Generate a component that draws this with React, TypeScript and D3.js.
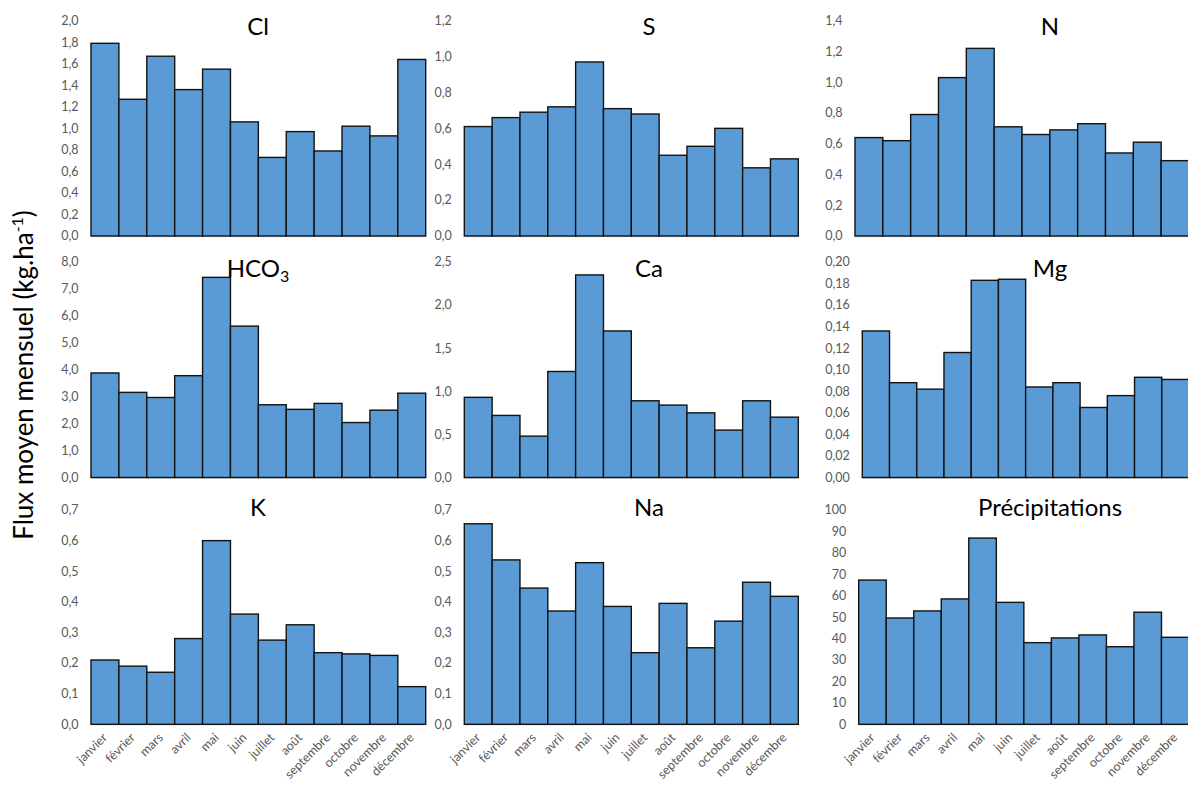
import React from "react";
import * as d3 from "d3";

const months = ["janvier", "février", "mars", "avril", "mai", "juin", "juillet", "août", "septembre", "octobre", "novembre", "décembre"];

const clValues = [1.79, 1.27, 1.67, 1.36, 1.55, 1.06, 0.73, 0.97, 0.79, 1.02, 0.93, 1.64];
const sValues = [0.61, 0.66, 0.69, 0.72, 0.97, 0.71, 0.68, 0.45, 0.5, 0.6, 0.38, 0.43];
const nValues = [0.64, 0.62, 0.79, 1.03, 1.22, 0.71, 0.66, 0.69, 0.73, 0.54, 0.61, 0.49];
const hco3Values = [3.88, 3.16, 2.97, 3.78, 7.43, 5.62, 2.7, 2.53, 2.75, 2.04, 2.5, 3.13];
const caValues = [0.93, 0.72, 0.48, 1.23, 2.35, 1.7, 0.89, 0.84, 0.75, 0.55, 0.89, 0.7];
const mgValues = [0.136, 0.088, 0.082, 0.116, 0.183, 0.184, 0.084, 0.088, 0.065, 0.076, 0.093, 0.091];
const kValues = [0.21, 0.19, 0.17, 0.28, 0.6, 0.36, 0.275, 0.325, 0.234, 0.23, 0.225, 0.123];
const naValues = [0.655, 0.537, 0.445, 0.37, 0.528, 0.385, 0.234, 0.395, 0.25, 0.337, 0.464, 0.418];
const precipValues = [67.3, 49.6, 52.9, 58.5, 86.9, 56.9, 38.1, 40.3, 41.7, 36.2, 52.3, 40.6];

// tick specs: [max, step, decimals]
const clTicks = [2.0, 0.2, 1];
const sTicks = [1.2, 0.2, 1];
const nTicks = [1.4, 0.2, 1];
const hco3Ticks = [8, 1, 1];
const caTicks = [2.5, 0.5, 1];
const mgTicks = [0.2, 0.02, 2];
const kTicks = [0.7, 0.1, 1];
const naTicks = [0.7, 0.1, 1];
const precipTicks = [100, 10, 0];

const titles = ["Cl", "S", "N", "HCO3", "Ca", "Mg", "K", "Na", "Précipitations"];
const yTitle = "Flux moyen mensuel (kg.ha";

const FONT = "Lato, 'Open Sans', sans-serif";
const BAR_FILL = "#5B9BD5";
const LABEL_GRAY = "#595959";

const rows = [
  { top: 20.7, base: 236, titleY: 35 },
  { top: 262, base: 477.5, titleY: 276.5 },
  { top: 510, base: 724.3, titleY: 516 },
];
const cols = [
  { right: 425.7, titleX: 258 },
  { right: 798.3, titleX: 649 },
  { right: 1189, titleX: 1050 },
];
const lefts = [91, 464.3, 855, 91, 464.3, 862.3, 91, 464.3, 858.7];

const panels = [
  { values: clValues, ticks: clTicks },
  { values: sValues, ticks: sTicks },
  { values: nValues, ticks: nTicks },
  { values: hco3Values, ticks: hco3Ticks },
  { values: caValues, ticks: caTicks },
  { values: mgValues, ticks: mgTicks },
  { values: kValues, ticks: kTicks },
  { values: naValues, ticks: naTicks },
  { values: precipValues, ticks: precipTicks },
];

function Panel({ idx }: { idx: number }) {
  const r = Math.floor(idx / 3);
  const c = idx % 3;
  const row = rows[r];
  const col = cols[c];
  const { values, ticks } = panels[idx];
  const [max, step, dec] = ticks;
  const left = lefts[idx];
  const x = d3.scaleBand<string>().domain(months).range([left, col.right]).padding(0);
  const y = d3.scaleLinear().domain([0, max]).range([row.base, row.top]);
  const n = Math.round(max / step);
  const tickVals = d3.range(0, n + 1).map((i) => i * step);
  const fmt = (v: number) => v.toFixed(dec).replace(".", ",");
  const title = titles[idx];
  return (
    <g>
      {tickVals.map((t, i) => (
        <text
          key={i}
          x={left - 12.5}
          y={y(t)}
          dy="0.35em"
          textAnchor="end"
          fontSize={12.5}
          fill={LABEL_GRAY}
          fontFamily={FONT}
        >
          {fmt(t)}
        </text>
      ))}
      <line x1={left} x2={col.right} y1={row.base + 0.5} y2={row.base + 0.5} stroke="#D9D9D9" strokeWidth={1.5} />
      {values.map((v, i) => (
        <rect
          key={i}
          x={x(months[i])!}
          y={y(v)}
          width={x.bandwidth()}
          height={row.base - y(v)}
          fill={BAR_FILL}
          stroke="#121212"
          strokeWidth={1.4}
        />
      ))}
      {title === "HCO3" ? (
        <text x={col.titleX} y={row.titleY} textAnchor="middle" fontSize={24} fontFamily={FONT} fill="#000">
          HCO<tspan fontSize={16} dy={5}>3</tspan>
        </text>
      ) : (
        <text x={col.titleX} y={row.titleY} textAnchor="middle" fontSize={24} fontFamily={FONT} fill="#000">
          {title}
        </text>
      )}
      {r === 2 &&
        months.map((m, i) => {
          const cx = x(m)! + x.bandwidth() / 2 + 3;
          const cy = row.base + 14;
          return (
            <text
              key={m}
              x={cx}
              y={cy}
              textAnchor="end"
              fontSize={12.5}
              fill={LABEL_GRAY}
              fontFamily={FONT}
              transform={`rotate(-45, ${cx}, ${cy})`}
            >
              {m}
            </text>
          );
        })}
    </g>
  );
}

export default function App() {
  return (
    <svg
      width={1188}
      height={791}
      style={{ position: "absolute", left: 0, top: 0, background: "#fff" }}
    >
      <rect x={0} y={0} width={1188} height={791} fill="#fff" />
      {panels.map((_, i) => (
        <Panel key={i} idx={i} />
      ))}
      <text
        transform="translate(33, 375) rotate(-90)"
        textAnchor="middle"
        fontSize={26}
        fontFamily={FONT}
        fill="#000"
      >
        {yTitle}
        <tspan fontSize={16} dy={-10}>-1</tspan>
        <tspan dy={10}>)</tspan>
      </text>
    </svg>
  );
}
